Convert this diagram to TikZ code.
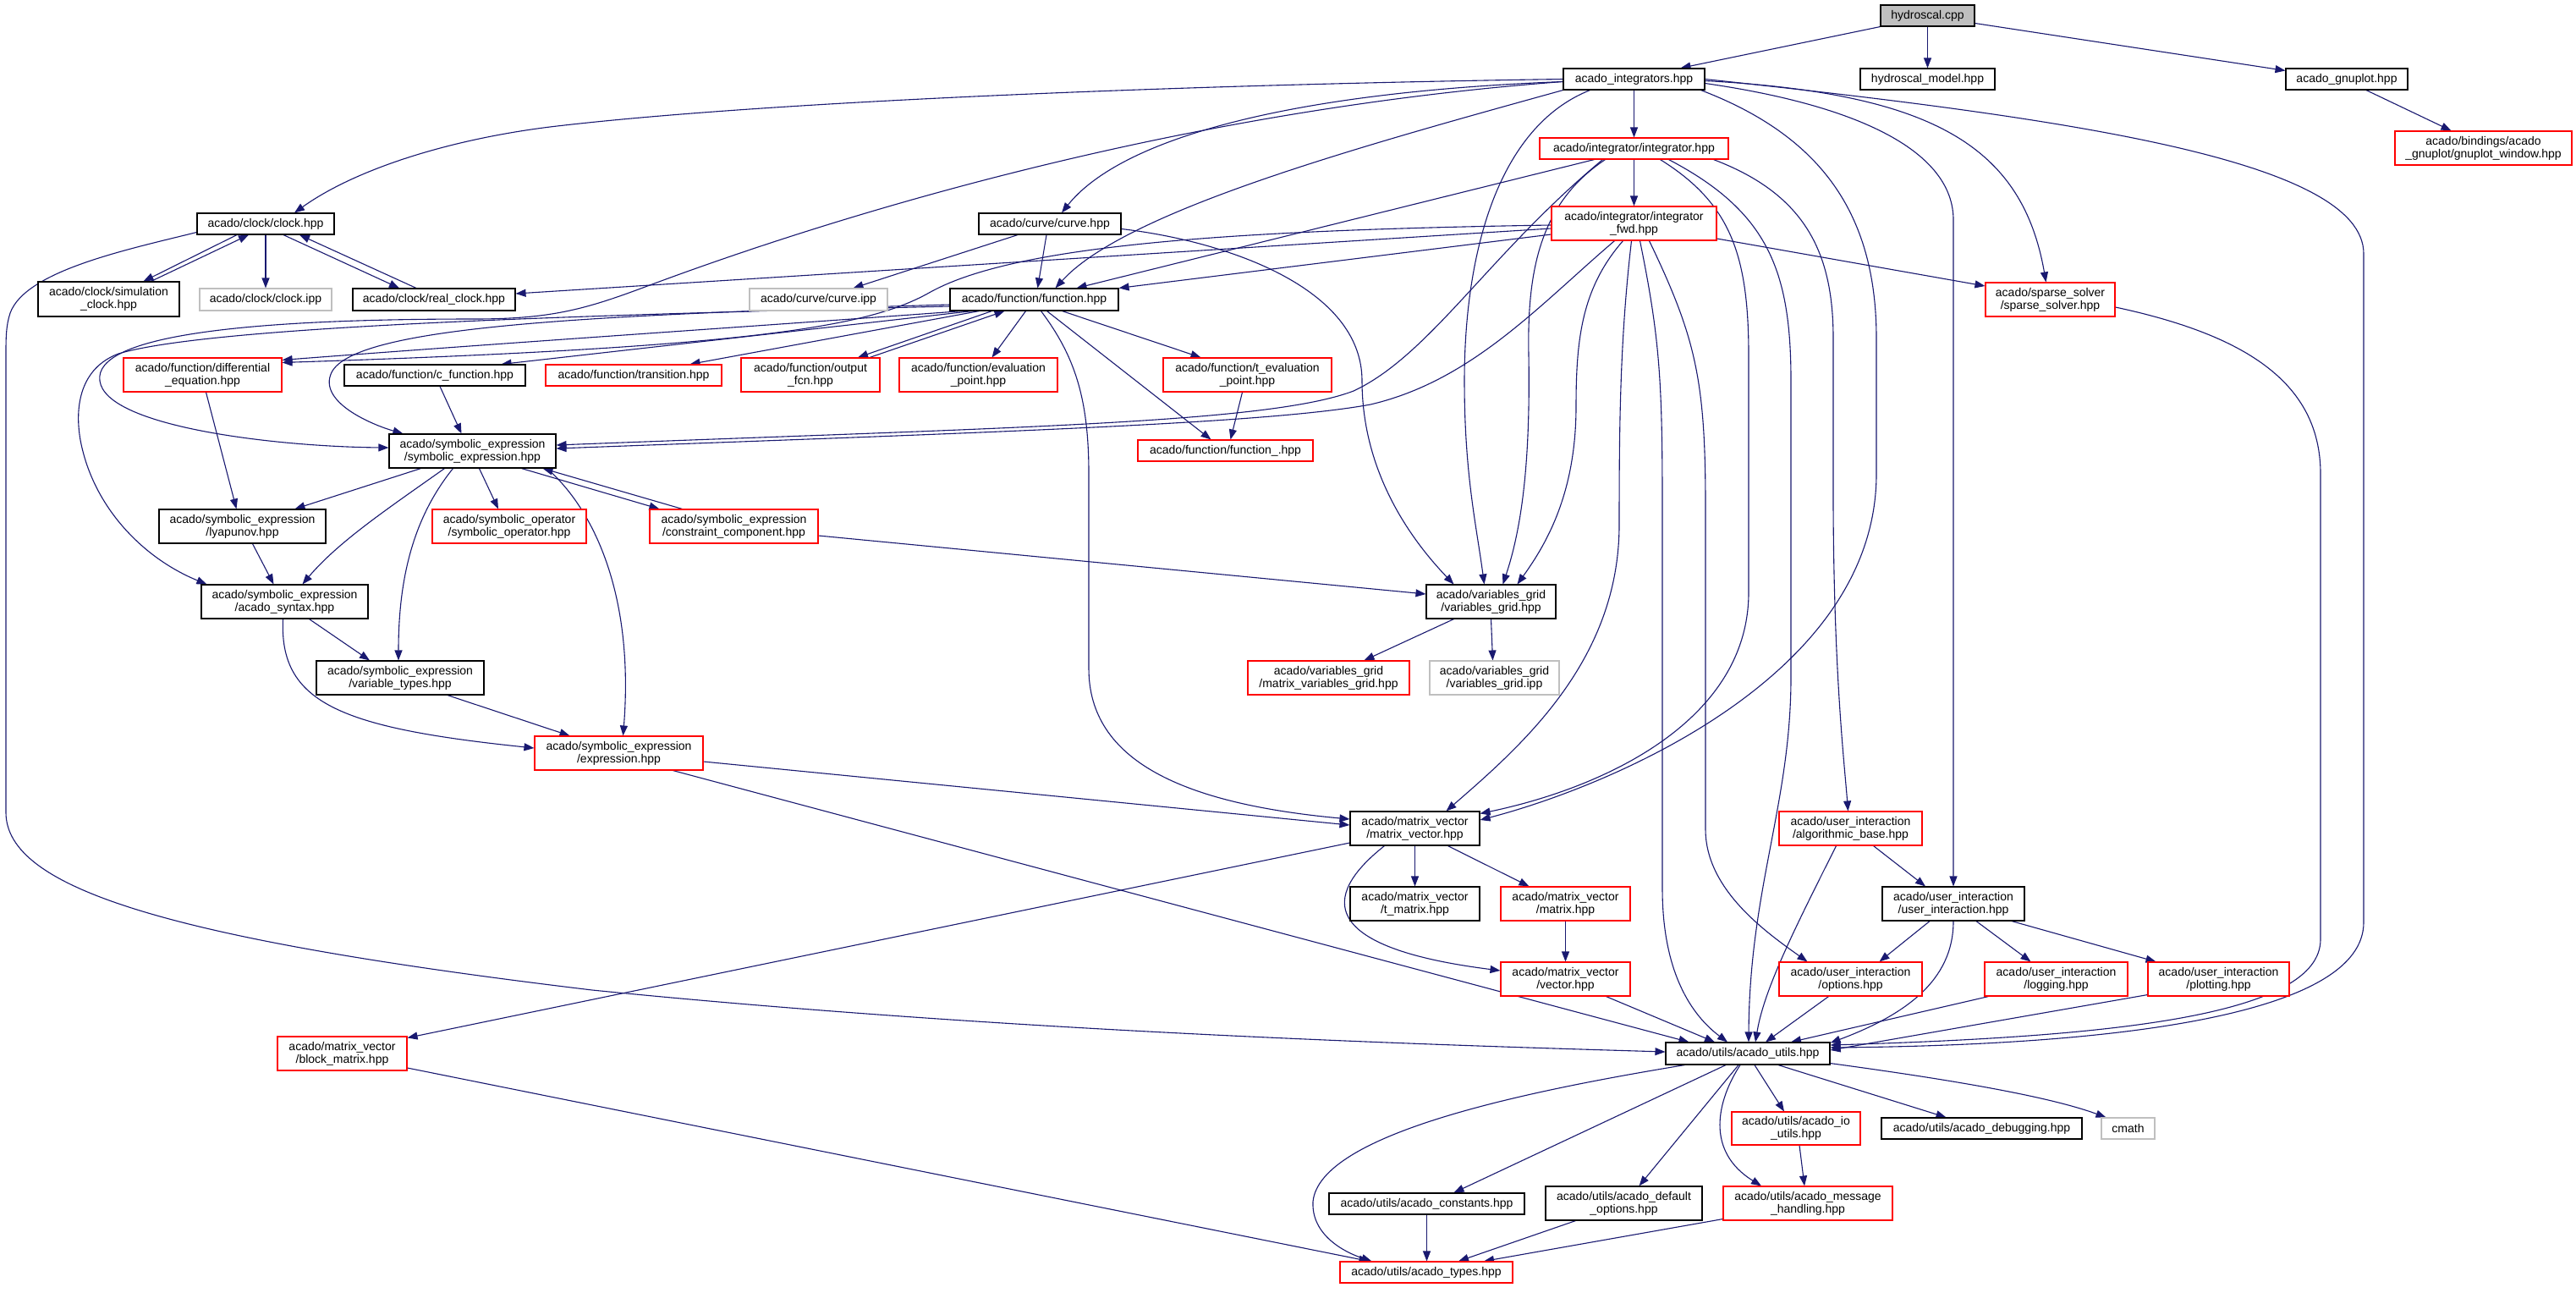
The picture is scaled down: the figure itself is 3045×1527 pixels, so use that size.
\documentclass[tikz,border=0pt]{standalone}
\usepackage{fontspec}
\setmainfont{Liberation Sans}
\usetikzlibrary{arrows.meta,calc}
\definecolor{edgec}{HTML}{191970}
\definecolor{graybd}{HTML}{BFBFBF}
\newcommand\nf{\fontsize{14}{15}\selectfont}
\pgfdeclarelayer{bg}
\pgfsetlayers{bg,main}
\begin{document}
\begin{tikzpicture}[x=1pt,y=-1pt,
  nb/.style={draw=black,line width=1.1pt,fill=white,inner sep=0pt,align=center,font=\nf},
  nr/.style={nb,draw=red},
  ng/.style={nb,draw=graybd},
  root/.style={nb,fill=graybd},
  sz/.style 2 args={minimum width=#1pt,minimum height=#2pt},
  dep/.style={draw=edgec,line width=1.1pt,-{Triangle[length=12pt,width=9pt]}}]
\begin{pgfonlayer}{bg}
\fill[white] (0,0) rectangle (3045,1527);
\end{pgfonlayer}
\useasboundingbox (0,0) rectangle (3045,1527);
% nodes
\node[root,sz={111}{25}] (hydro) at (2278.5,18.5) {hydroscal.cpp};
\node[nb,sz={167}{25}] (integrators) at (1931.5,93.5) {acado\_integrators.hpp};
\node[nb,sz={159}{25}] (hmodel) at (2278.5,93.5) {hydroscal\_model.hpp};
\node[nb,sz={144}{25}] (gnuplot) at (2774,93.5) {acado\_gnuplot.hpp};
\node[nr,sz={209}{40}] (gpwin) at (2935.5,175) {acado/bindings/acado\\\_gnuplot/gnuplot\_window.hpp};
\node[nr,sz={223}{25}] (integrator) at (1931.5,175.5) {acado/integrator/integrator.hpp};
\node[nr,sz={195}{40}] (integfwd) at (1931.5,264) {acado/integrator/integrator\\\_fwd.hpp};
\node[nb,sz={162}{25}] (clock) at (314,264.5) {acado/clock/clock.hpp};
\node[nb,sz={168}{25}] (curve) at (1241,264.5) {acado/curve/curve.hpp};
\node[nr,sz={153}{40}] (sparse) at (2423.5,354) {acado/sparse\_solver\\/sparse\_solver.hpp};
\node[nb,sz={167}{41}] (simclock) at (128.5,353.5) {acado/clock/simulation\\\_clock.hpp};
\node[ng,sz={156}{26}] (clockipp) at (314,354) {acado/clock/clock.ipp};
\node[nb,sz={192}{26}] (realclock) at (513,354) {acado/clock/real\_clock.hpp};
\node[ng,sz={163}{26}] (curveipp) at (967.5,354) {acado/curve/curve.ipp};
\node[nb,sz={199}{26}] (function) at (1222.5,354) {acado/function/function.hpp};
\node[nr,sz={187}{40}] (diffeq) at (239.5,443) {acado/function/differential\\\_equation.hpp};
\node[nb,sz={214}{25}] (cfunction) at (514,443.5) {acado/function/c\_function.hpp};
\node[nr,sz={208}{25}] (transition) at (749,443.5) {acado/function/transition.hpp};
\node[nr,sz={164}{40}] (outputfcn) at (958,443) {acado/function/output\\\_fcn.hpp};
\node[nr,sz={187}{40}] (evalpoint) at (1156.5,443) {acado/function/evaluation\\\_point.hpp};
\node[nr,sz={199}{40}] (tevalpoint) at (1474.5,443) {acado/function/t\_evaluation\\\_point.hpp};
\node[nr,sz={207}{25}] (functionu) at (1448.5,532.5) {acado/function/function\_.hpp};
\node[nb,sz={197}{40}] (symexpr) at (558.5,533) {acado/symbolic\_expression\\/symbolic\_expression.hpp};
\node[nb,sz={197}{40}] (lyapunov) at (286.5,622) {acado/symbolic\_expression\\/lyapunov.hpp};
\node[nr,sz={182}{40}] (symop) at (602,622) {acado/symbolic\_operator\\/symbolic\_operator.hpp};
\node[nr,sz={199}{40}] (constraint) at (867.5,622) {acado/symbolic\_expression\\/constraint\_component.hpp};
\node[nb,sz={197}{40}] (syntax) at (336.5,711) {acado/symbolic\_expression\\/acado\_syntax.hpp};
\node[nb,sz={198}{40}] (vartypes) at (473,801) {acado/symbolic\_expression\\/variable\_types.hpp};
\node[nr,sz={199}{40}] (expression) at (731.5,890) {acado/symbolic\_expression\\/expression.hpp};
\node[nb,sz={153}{40}] (vargrid) at (1762.5,711) {acado/variables\_grid\\/variables\_grid.hpp};
\node[nr,sz={191}{40}] (mvargrid) at (1570.5,801) {acado/variables\_grid\\/matrix\_variables\_grid.hpp};
\node[ng,sz={153}{40}] (vargridipp) at (1766.5,801) {acado/variables\_grid\\/variables\_grid.ipp};
\node[nb,sz={153}{40}] (matvec) at (1672.5,979) {acado/matrix\_vector\\/matrix\_vector.hpp};
\node[nr,sz={169}{40}] (algobase) at (2187.5,979) {acado/user\_interaction\\/algorithmic\_base.hpp};
\node[nb,sz={153}{40}] (tmatrix) at (1672.5,1068) {acado/matrix\_vector\\/t\_matrix.hpp};
\node[nr,sz={153}{40}] (matrix) at (1850.5,1068) {acado/matrix\_vector\\/matrix.hpp};
\node[nr,sz={153}{40}] (vector) at (1850.5,1157) {acado/matrix\_vector\\/vector.hpp};
\node[nb,sz={168}{40}] (userint) at (2309,1068) {acado/user\_interaction\\/user\_interaction.hpp};
\node[nr,sz={169}{40}] (options) at (2187.5,1157) {acado/user\_interaction\\/options.hpp};
\node[nr,sz={169}{40}] (logging) at (2430.5,1157) {acado/user\_interaction\\/logging.hpp};
\node[nr,sz={167}{40}] (plotting) at (2622.5,1157) {acado/user\_interaction\\/plotting.hpp};
\node[nr,sz={153}{40}] (blockmatrix) at (404.5,1245) {acado/matrix\_vector\\/block\_matrix.hpp};
\node[nb,sz={194}{26}] (utils) at (2066,1245) {acado/utils/acado\_utils.hpp};
\node[nr,sz={152}{39}] (ioutils) at (2123,1333.5) {acado/utils/acado\_io\\\_utils.hpp};
\node[nb,sz={237}{25}] (debugging) at (2342.5,1333.5) {acado/utils/acado\_debugging.hpp};
\node[ng,sz={63}{25}] (cmath) at (2515.5,1333.5) {cmath};
\node[nb,sz={231}{25}] (constants) at (1686.5,1422.5) {acado/utils/acado\_constants.hpp};
\node[nb,sz={185}{40}] (defopts) at (1919.5,1422) {acado/utils/acado\_default\\\_options.hpp};
\node[nr,sz={200}{40}] (msghandling) at (2137,1422) {acado/utils/acado\_message\\\_handling.hpp};
\node[nr,sz={204}{25}] (types) at (1686,1503.5) {acado/utils/acado\_types.hpp};
% edges
\begin{pgfonlayer}{bg}
\draw[dep] (hydro.south west) -- ($(integrators.north)+(55,0)$);
\draw[dep] (hydro.south) -- (hmodel.north);
\draw[dep] ($(hydro.east)+(0,9)$) -- ($(gnuplot.north west)+(0,3)$);
\draw[dep] ($(gnuplot.south)+(23,0)$) -- ($(gpwin.north)+(-38,0)$);
\draw[dep] (integrators.south) -- (integrator.north);
\draw[dep] (integrator.south) -- (integfwd.north);
% acado_integrators
\draw[dep] (integrators.west) .. controls (1400,100) and (900,120) .. (650,150) .. controls (530,165) and (420,200) .. ($(clock.north)+(34,0)$);
\draw[dep] ($(integrators.west)+(0,3)$) .. controls (1400,130) and (1000,250) .. (760,340) .. controls (690,366) and (650,377) .. (560,377) .. controls (300,377) and (110,395) .. (118,450) .. controls (125,505) and (330,528) .. ($(symexpr.west)+(0,-4)$);
\draw[dep] ($(integrators.west)+(0,3)$) .. controls (1500,110) and (1320,170) .. ($(curve.north)+(14,0)$);
\draw[dep] (integrators.south west) .. controls (1600,175) and (1330,250) .. ($(function.north)+(25,0)$);
\draw[dep] ($(integrators.south west)+(32,0)$) .. controls (1770,150) and (1731,300) .. (1731,450) .. controls (1731,560) and (1745,620) .. ($(vargrid.north)+(-8,0)$);
\draw[dep] ($(integrators.south east)+(-5,0)$) .. controls (2150,160) and (2218,250) .. (2218,400) -- (2218,560) .. controls (2218,800) and (1900,930) .. ($(matvec.east)+(0,-10)$);
\draw[dep] ($(integrators.east)+(0,2)$) .. controls (2280,110) and (2390,170) .. ($(sparse.north)+(-5,0)$);
\draw[dep] ($(integrators.east)+(0,5)$) .. controls (2200,125) and (2309,180) .. (2309,260) -- (userint.north);
\draw[dep] (integrators.east) .. controls (2450,140) and (2794,190) .. (2794,300) -- (2794,1090) .. controls (2794,1200) and (2500,1235) .. ($(utils.east)+(0,-7)$);
% integrator
\draw[dep] ($(integrator.south)+(-47,0)$) -- ($(function.north)+(50,0)$);
\draw[dep] ($(integrator.south)+(-34,0)$) .. controls (1820,240) and (1805,320) .. (1807,420) .. controls (1809,540) and (1800,620) .. ($(vargrid.north)+(14,0)$);
\draw[dep] ($(integrator.south)+(-37,0)$) .. controls (1760,300) and (1690,420) .. (1600,462) .. controls (1500,500) and (1200,505) .. ($(symexpr.east)+(0,-7)$);
\draw[dep] ($(integrator.south)+(31,0)$) .. controls (2045,240) and (2067,300) .. (2067,420) -- (2067,700) .. controls (2067,850) and (1900,930) .. ($(matvec.north east)+(0,3)$);
\draw[dep] ($(integrator.south)+(41,0)$) .. controls (2090,250) and (2117,320) .. (2117,450) -- (2117,800) .. controls (2117,950) and (2068,1050) .. ($(utils.north)+(1,0)$);
\draw[dep] ($(integrator.south)+(94,0)$) .. controls (2135,230) and (2167,300) .. (2167,400) -- (2167,600) .. controls (2168,800) and (2180,900) .. ($(algobase.north)+(-3,0)$);
% integrator_fwd
\draw[dep] ($(integfwd.west)+(0,13)$) -- (function.north east);
\draw[dep] ($(integfwd.west)+(0,6)$) -- ($(realclock.east)+(0,-7)$);
\draw[dep] ($(integfwd.west)+(0,2)$) .. controls (1450,272) and (1200,290) .. (1100,345) .. controls (1030,385) and (900,410) .. ($(diffeq.north east)+(0,6)$);
\draw[dep] ($(integfwd.south)+(-23,0)$) .. controls (1820,360) and (1740,450) .. (1620,478) .. controls (1500,500) and (1200,510) .. ($(symexpr.east)+(0,-3)$);
\draw[dep] ($(integfwd.south)+(-13,0)$) .. controls (1870,340) and (1863,400) .. (1863,480) .. controls (1863,580) and (1830,640) .. ($(vargrid.north)+(31,0)$);
\draw[dep] ($(integfwd.south)+(-3,0)$) .. controls (1915,400) and (1914,500) .. (1914,620) .. controls (1914,780) and (1800,880) .. ($(matvec.north)+(37,0)$);
\draw[dep] ($(integfwd.south)+(7,0)$) .. controls (1962,400) and (1965,450) .. (1965,600) -- (1965,1050) .. controls (1965,1150) and (2000,1200) .. ($(utils.north)+(-24,0)$);
\draw[dep] ($(integfwd.south)+(18,0)$) .. controls (2005,400) and (2016,450) .. (2016,600) -- (2016,980) .. controls (2016,1050) and (2085,1100) .. ($(options.north)+(-51,0)$);
\draw[dep] ($(integfwd.east)+(0,18)$) -- ($(sparse.west)+(0,-16)$);
% sparse
\draw[dep] ($(sparse.east)+(0,9)$) .. controls (2650,395) and (2743,450) .. (2743,560) -- (2743,1110) .. controls (2743,1200) and (2500,1225) .. ($(utils.east)+(0,-10)$);
% clock
\draw[dep] ($(clock.south)+(-34,0)$) -- ($(simclock.north)+(41,0)$);
\draw[dep] ($(simclock.north)+(50,0)$) -- ($(clock.south)+(-20,0)$);
\draw[dep] (clock.south) -- (clockipp.north);
\draw[dep] ($(clock.south)+(21,0)$) -- ($(realclock.north)+(-41,0)$);
\draw[dep] ($(realclock.north)+(-21,0)$) -- ($(clock.south)+(40,0)$);
\draw[dep] ($(clock.west)+(0,10)$) .. controls (150,295) and (30,320) .. (12,370) .. controls (7,385) and (7,400) .. (7,420) -- (7,960) .. controls (7,1050) and (200,1110) .. (700,1170) .. controls (1200,1220) and (1700,1235) .. ($(utils.west)+(0,-2)$);
% curve
\draw[dep] ($(curve.south)+(-4,0)$) -- ($(function.north)+(4,0)$);
\draw[dep] ($(curve.south)+(-38,0)$) -- ($(curveipp.north)+(41,0)$);
\draw[dep] ($(curve.east)+(0,6)$) .. controls (1450,285) and (1610,340) .. (1610,450) .. controls (1610,560) and (1670,640) .. ($(vargrid.north west)+(33,0)$);
% function
\draw[dep] ($(function.south)+(-50,0)$) -- ($(outputfcn.north)+(56,0)$);
\draw[dep] ($(outputfcn.north)+(70,0)$) -- ($(function.south)+(-35,0)$);
\draw[dep] ($(function.south)+(-10,0)$) -- ($(evalpoint.north)+(16,0)$);
\draw[dep] ($(function.south)+(33,0)$) -- ($(tevalpoint.north)+(-55,0)$);
\draw[dep] ($(function.south)+(15,0)$) -- ($(functionu.north)+(-17,0)$);
\draw[dep] ($(tevalpoint.south)+(-6,0)$) -- ($(functionu.north)+(6,0)$);
\draw[dep] ($(function.south west)+(15,0)$) .. controls (900,385) and (600,405) .. ($(diffeq.north east)+(0,3)$);
\draw[dep] ($(function.south west)+(27,0)$) -- ($(cfunction.north east)+(-29,0)$);
\draw[dep] ($(function.south west)+(35,0)$) -- ($(transition.north east)+(-38,0)$);
\draw[dep] ($(function.west)+(0,8)$) .. controls (700,372) and (250,385) .. (140,418) .. controls (95,435) and (88,480) .. (95,520) .. controls (110,600) and (170,660) .. ($(syntax.north west)+(7,0)$);
\draw[dep] ($(function.west)+(0,6)$) .. controls (700,372) and (420,385) .. (392,440) .. controls (375,475) and (440,502) .. ($(symexpr.north west)+(17,0)$);
\draw[dep] ($(function.south)+(8,0)$) .. controls (1270,420) and (1287,470) .. (1287,560) -- (1287,790) .. controls (1287,900) and (1400,950) .. ($(matvec.west)+(0,-11)$);
% symbolic
\draw[dep] ($(cfunction.south)+(6,0)$) -- ($(symexpr.north)+(-13,0)$);
\draw[dep] ($(diffeq.south)+(4,0)$) -- ($(lyapunov.north)+(-7,0)$);
\draw[dep] ($(symexpr.south)+(-61,0)$) -- ($(lyapunov.north)+(62,0)$);
\draw[dep] ($(symexpr.south)+(-33,0)$) .. controls (460,600) and (400,640) .. ($(syntax.north)+(21,0)$);
\draw[dep] ($(lyapunov.south)+(12,0)$) -- ($(syntax.north)+(-13,0)$);
\draw[dep] ($(symexpr.south)+(8,0)$) -- ($(symop.north)+(-13,0)$);
\draw[dep] ($(symexpr.south)+(-23,0)$) .. controls (490,610) and (471,680) .. ($(vartypes.north)+(-2,0)$);
\draw[dep] ($(symexpr.south)+(88,0)$) .. controls (700,600) and (750,700) .. ($(expression.north)+(5,0)$);
\draw[dep] ($(symexpr.south)+(58,0)$) -- ($(constraint.north west)+(12,0)$);
\draw[dep] ($(constraint.north west)+(39,0)$) -- ($(symexpr.south)+(83,0)$);
\draw[dep] ($(syntax.south)+(29,0)$) -- ($(vartypes.north)+(-36,0)$);
\draw[dep] ($(syntax.south)+(-2,0)$) .. controls (330,830) and (400,860) .. ($(expression.west)+(0,-6)$);
\draw[dep] ($(vartypes.south)+(56,0)$) -- ($(expression.north)+(-58,0)$);
\draw[dep] ($(expression.east)+(0,10)$) -- ($(matvec.west)+(0,-4)$);
\draw[dep] ($(expression.south east)+(-36,0)$) -- ($(utils.north west)+(28,0)$);
\draw[dep] ($(constraint.east)+(0,11)$) -- ($(vargrid.west)+(0,-9)$);
% variables grid
\draw[dep] ($(vargrid.south)+(-44,0)$) -- ($(mvargrid.north)+(42,0)$);
\draw[dep] (vargrid.south) -- ($(vargridipp.north)+(-2,0)$);
% matrix vector
\draw[dep] (matvec.south) -- (tmatrix.north);
\draw[dep] ($(matvec.south)+(39,0)$) -- ($(matrix.north)+(-43,0)$);
\draw[dep] ($(matvec.south)+(-36,0)$) .. controls (1560,1060) and (1560,1120) .. ($(vector.west)+(0,-10)$);
\draw[dep] ($(matvec.west)+(0,17)$) -- ($(blockmatrix.north east)+(0,2)$);
\draw[dep] (matrix.south) -- (vector.north);
\draw[dep] ($(vector.south)+(48,0)$) -- ($(utils.north)+(-39,0)$);
\draw[dep] ($(blockmatrix.east)+(0,17)$) -- ($(types.north west)+(35,0)$);
% user interaction
\draw[dep] ($(algobase.south)+(27,0)$) -- ($(userint.north)+(-33,0)$);
\draw[dep] ($(algobase.south)+(-17,0)$) .. controls (2120,1100) and (2085,1170) .. ($(utils.north)+(9,0)$);
\draw[dep] ($(userint.south)+(-28,0)$) -- ($(options.north)+(34,0)$);
\draw[dep] ($(userint.south)+(27,0)$) -- ($(logging.north)+(-30,0)$);
\draw[dep] ($(userint.south)+(69,0)$) -- ($(plotting.north)+(-74,0)$);
\draw[dep] (userint.south) .. controls (2309,1160) and (2250,1200) .. ($(utils.north east)+(0,1)$);
\draw[dep] ($(options.south)+(-26,0)$) -- ($(utils.north)+(21,0)$);
\draw[dep] ($(logging.south west)+(5,0)$) -- ($(utils.north)+(51,0)$);
\draw[dep] ($(plotting.south west)+(0,-2)$) -- ($(utils.east)+(0,-4)$);
% utils
\draw[dep] ($(utils.south)+(-26,0)$) -- ($(constants.north)+(32,0)$);
\draw[dep] ($(utils.south)+(-11,0)$) -- ($(defopts.north)+(18,0)$);
\draw[dep] ($(utils.south)+(-9,0)$) .. controls (2030,1300) and (2015,1360) .. ($(msghandling.north)+(-55,0)$);
\draw[dep] ($(utils.south)+(8,0)$) -- ($(ioutils.north)+(-14,0)$);
\draw[dep] ($(utils.south)+(36,0)$) -- ($(debugging.north)+(-42,0)$);
\draw[dep] ($(utils.south east)+(0,-2)$) .. controls (2300,1275) and (2420,1295) .. ($(cmath.north west)+(6,0)$);
\draw[dep] ($(utils.south west)+(23,0)$) .. controls (1800,1290) and (1560,1340) .. (1552,1420) .. controls (1550,1460) and (1590,1480) .. ($(types.north west)+(38,0)$);
\draw[dep] (constants.south) -- ($(types.north)+(0.5,0)$);
\draw[dep] ($(defopts.south)+(-57,0)$) -- ($(types.north)+(38,0)$);
\draw[dep] ($(msghandling.south west)+(0,-2)$) -- ($(types.north)+(68,0)$);
\draw[dep] ($(ioutils.south)+(4,0)$) -- ($(msghandling.north)+(-4,0)$);
\end{pgfonlayer}
\end{tikzpicture}
\end{document}
